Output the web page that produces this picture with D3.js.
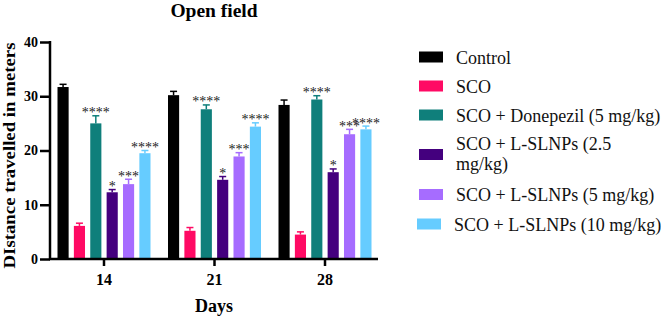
<!DOCTYPE html>
<html>
<head>
<meta charset="utf-8">
<script src="https://cdn.jsdelivr.net/npm/d3@7"></script>
<style>
  body { margin: 0; background: #fff; }
</style>
</head>
<body>
<svg id="chart" width="661" height="318"></svg>
<script>
// data
const days = ['14', '21', '28'];
const groups = ['Control', 'SCO', 'SCO + Donepezil (5 mg/kg)', 'SCO + L-SLNPs (2.5 mg/kg)',
                'SCO + L-SLNPs (5 mg/kg)', 'SCO + L-SLNPs (10 mg/kg)'];
const colors = ['#000000', '#ff0a64', '#0f7f7b', '#44007e', '#a66cff', '#66ccff'];
const means = [
    [31.7, 30.2, 28.4],
    [6.1, 5.2, 4.5],
    [25.0, 27.6, 29.4],
    [12.3, 14.6, 16.0],
    [13.8, 18.9, 23.0],
    [19.5, 24.4, 23.9]
];
const errs = [
    [0.5, 0.7, 0.9],
    [0.5, 0.6, 0.5],
    [1.4, 0.8, 0.7],
    [0.5, 0.6, 0.6],
    [0.9, 0.7, 0.9],
    [0.5, 0.7, 0.6]
];
const stars = [
    ['', '', ''],
    ['', '', ''],
    ['****', '****', '****'],
    ['*', '*', '*'],
    ['***', '***', '***'],
    ['****', '****', '****']
];
const yTicks = [0, 10, 20, 30, 40];

const FONT = '"Liberation Serif", "Times New Roman", Times, serif';
const svg = d3.select('#chart').attr('font-family', FONT);
const plot = { left: 50, right: 380, top: 42, bottom: 259 };

const x = d3.scaleBand().domain(days).range([48.75, 380.25]);
const xi = d3.scaleBand().domain(d3.range(groups.length))
    .range([-46.5, 46.5]).paddingInner(0.32);
const y = d3.scaleLinear().domain([0, 40]).range([plot.bottom, plot.top]);

// bars
const rows = [];
groups.forEach((g, gi) => days.forEach((d, di) => rows.push({
    gi, d, v: means[gi][di], e: errs[gi][di], s: stars[gi][di]
})));

const bars = svg.append('g');
rows.forEach(r => {
    const bx = x(r.d) + x.bandwidth() / 2 + xi(r.gi);
    const bw = xi.bandwidth();
    const cx = bx + bw / 2;
    const col = colors[r.gi];
    bars.append('rect')
        .attr('x', bx).attr('y', y(r.v))
        .attr('width', bw).attr('height', y(0) - y(r.v))
        .attr('fill', col);
    // upper error bar
    bars.append('line')
        .attr('x1', cx).attr('x2', cx)
        .attr('y1', y(r.v)).attr('y2', y(r.v + r.e))
        .attr('stroke', col).attr('stroke-width', 1.5);
    bars.append('line')
        .attr('x1', cx - 3.5).attr('x2', cx + 3.5)
        .attr('y1', y(r.v + r.e)).attr('y2', y(r.v + r.e))
        .attr('stroke', col).attr('stroke-width', 1.5);
    if (r.s) {
        bars.append('text')
            .attr('x', cx).attr('y', y(r.v + r.e) + 1.5)
            .attr('text-anchor', 'middle')
            .attr('font-size', 14)
            .attr('fill', '#222')
            .text(r.s);
    }
});

// axes
const yAxis = svg.append('g')
    .attr('transform', `translate(${plot.left},0)`)
    .call(d3.axisLeft(y).tickValues(yTicks).tickSize(10).tickSizeOuter(0).tickPadding(2));
yAxis.attr('font-family', FONT);
yAxis.select('.domain').attr('d', `M0,${plot.bottom + 1}V${plot.top - 1}`).attr('stroke-width', 2.5);
yAxis.selectAll('.tick line').attr('stroke-width', 2.5);
yAxis.selectAll('text').attr('font-size', 14).attr('font-weight', 'bold').attr('fill', '#000');

const xAxis = svg.append('g')
    .attr('transform', `translate(0,${plot.bottom})`)
    .call(d3.axisBottom(x).tickSize(7).tickSizeOuter(0).tickPadding(8));
xAxis.attr('font-family', FONT);
xAxis.select('.domain').attr('d', `M${plot.left - 1},0H${plot.right - 2}`).attr('stroke-width', 2.5);
xAxis.selectAll('.tick line').attr('stroke-width', 2.5);
xAxis.selectAll('text').attr('font-size', 16).attr('font-weight', 'bold').attr('fill', '#000');

// titles
svg.append('text')
    .attr('x', 214).attr('y', 17)
    .attr('text-anchor', 'middle')
    .attr('font-size', 19.5).attr('font-weight', 'bold')
    .text('Open field');

svg.append('text')
    .attr('transform', 'translate(14.5,155.5) rotate(-90)')
    .attr('text-anchor', 'middle')
    .attr('font-size', 16.5).attr('font-weight', 'bold')
    .attr('textLength', 226).attr('lengthAdjust', 'spacingAndGlyphs')
    .text('DIstance travelled in meters');

svg.append('text')
    .attr('x', 214).attr('y', 312)
    .attr('text-anchor', 'middle')
    .attr('font-size', 18).attr('font-weight', 'bold')
    .text('Days');

// legend
const legendRows = [
    { lines: ['Control'], y: 57 },
    { lines: ['SCO'], y: 86 },
    { lines: ['SCO + Donepezil (5 mg/kg)'], y: 115 },
    { lines: ['SCO + L-SLNPs (2.5', 'mg/kg)'], y: 154.5 },
    { lines: ['SCO + L-SLNPs (5 mg/kg)'], y: 194.5 },
    { lines: ['SCO + L-SLNPs (10 mg/kg)'], y: 224 }
];
const leg = svg.append('g');
legendRows.forEach((lr, i) => {
    const xOff = i === 5 ? -2 : 0;
    leg.append('rect')
        .attr('x', 419 + xOff).attr('y', lr.y - 5.5)
        .attr('width', 24).attr('height', 11)
        .attr('fill', colors[i]);
    const n = lr.lines.length;
    lr.lines.forEach((t, k) => {
        const base = n === 1 ? lr.y + 6.5 : lr.y - 4.5 + k * 19.5;
        leg.append('text')
            .attr('x', 456 + xOff)
            .attr('y', base)
            .attr('font-size', 18)
            .attr('fill', '#111')
            .text(t);
    });
});
</script>
</body>
</html>
